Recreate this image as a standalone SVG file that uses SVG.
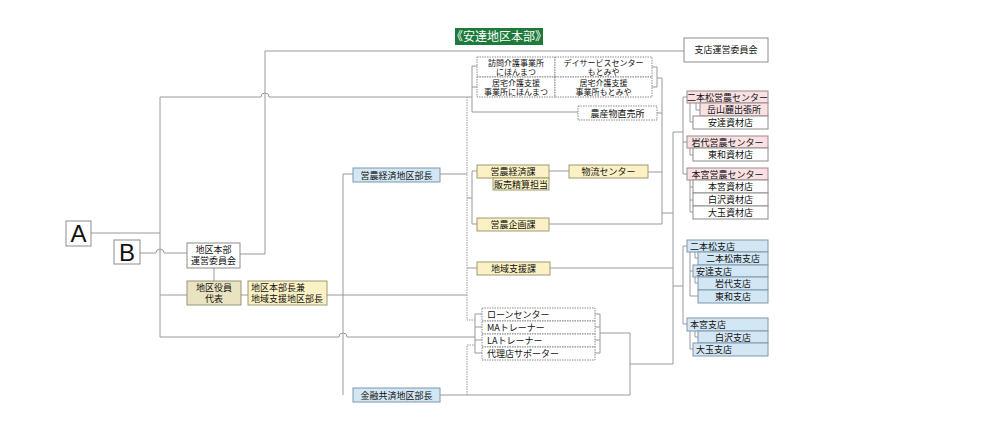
<svg xmlns="http://www.w3.org/2000/svg" width="1000" height="431" viewBox="0 0 1000 431">
<style>
.t{font-family:"Noto Sans CJK JP","Noto Sans",sans-serif;font-size:9px;fill:#111;text-anchor:middle}
.tl{font-family:"Noto Sans CJK JP","Noto Sans",sans-serif;font-size:9px;fill:#111;text-anchor:start}
.s{font-size:8px}
.big{font-family:"Liberation Sans",Arial,sans-serif;font-size:24px;fill:#111;text-anchor:middle}
.w{fill:#fff;stroke:#8c8c8c;stroke-width:1}
.d{fill:#fff;stroke:#8c8c8c;stroke-width:1;stroke-dasharray:1.5 1}
.y{fill:#fbf1c4;stroke:#a09a70;stroke-width:1}
.tan{fill:#e9e3c2;stroke:#9a9478;stroke-width:1}
.b{fill:#d2e6f4;stroke:#7d98ad;stroke-width:1}
.p{fill:#f9e0e3;stroke:#9c8a8c;stroke-width:1}
.ln{fill:none;stroke:#9a9a9a;stroke-width:1}
.dl{fill:none;stroke:#9a9a9a;stroke-width:1;stroke-dasharray:1.5 1}
</style>

<g id="connectors">
<path class="ln" d="M240,254 H265 V51 H684"/>
<path class="ln" d="M160,337 V97 H261 A4,4 0 0 1 269,97 H472"/>
<path class="ln" d="M91,233 H160"/>
<path class="ln" d="M140,253 H156 A4,4 0 0 1 164,253 H187"/>
<path class="ln" d="M214,268 V281"/>
<path class="ln" d="M160,295 H187"/>
<path class="ln" d="M241,295 H248"/>
<path class="ln" d="M327,295 H467"/>
<path class="ln" d="M160,337 H339 A4,4 0 0 1 347,337 H475"/>
<path class="ln" d="M477,66 H472 V112 H578"/>
<path class="ln" d="M472,87 H477"/>
<path class="dl" d="M467,97 V320 H475"/>
<path class="ln" d="M343,395 V174 H353"/>
<path class="ln" d="M440,174 H467"/>
<path class="ln" d="M467,198 H472 V171 H477"/>
<path class="ln" d="M472,198 V224 H477"/>
<path class="ln" d="M549,171 H569"/>
<path class="ln" d="M467,268 H477"/>
<path class="ln" d="M652,67 H657 V87 H652"/>
<path class="ln" d="M657,78 H662 V224 H549"/>
<path class="ln" d="M657,113 H662"/>
<path class="ln" d="M648,172 H662"/>
<path class="ln" d="M662,213 H673"/>
<path class="ln" d="M673,132 V364"/>
<path class="ln" d="M673,132 H683"/>
<path class="ln" d="M550,268 H673"/>
<path class="ln" d="M673,286 H683"/>
<path class="ln" d="M630,364 H673"/>
<path class="ln" d="M475,314 V353"/>
<path class="ln" d="M475,314 H482 M475,327 H482 M475,340 H482 M475,353 H482"/>
<path class="ln" d="M595,314 H600 M595,327 H600 M595,340 H600 M595,353 H600 M600,314 V353"/>
<path class="ln" d="M600,333 H630 V395"/>
<path class="ln" d="M440,395 H630"/>
<path class="dl" d="M467,395 V345 H475"/>
<path class="ln" d="M687,97 H683 V174 H687 M683,142 H687"/>
<path class="ln" d="M690,103 V122 H693 M696,103 V110 H700"/>
<path class="ln" d="M690,148 V155 H693"/>
<path class="ln" d="M690,180 V212 H693 M690,187 H693 M690,200 H693"/>
<path class="ln" d="M687,246 H683 V324 H687"/>
<path class="ln" d="M690,252 V296 H698 M690,271 H693"/>
<path class="ln" d="M695,252 V258 H698"/>
<path class="ln" d="M695,277 V283 H698"/>
<path class="ln" d="M690,331 V349 H693"/>
<path class="ln" d="M695,331 V337 H698"/>
</g>

<g id="title">
<rect x="455" y="28" width="88" height="17" fill="#1d7a3a"/>
<text x="499" y="41" class="t" style="fill:#fff;font-size:12px">《安達地区本部》</text>
</g>

<g id="shiten-committee">
<rect class="w" x="684" y="38" width="84" height="24"/>
<text class="t" x="726" y="53">支店運営委員会</text>
</g>

<g id="A"><rect class="w" x="66" y="221" width="25" height="25"/><text class="big" x="78.5" y="242">A</text></g>
<g id="B"><rect class="w" x="114" y="240" width="26" height="24"/><text class="big" x="127" y="261">B</text></g>

<g id="honbu-committee">
<rect class="w" x="187" y="243" width="53" height="25"/>
<text class="t" x="213.5" y="253">地区本部</text>
<text class="t" x="213.5" y="264">運営委員会</text>
</g>
<g id="yakuin">
<rect class="tan" x="187" y="281" width="54" height="24"/>
<text class="t" x="214" y="291">地区役員</text>
<text class="t" x="214" y="302">代表</text>
</g>
<g id="honbucho">
<rect class="y" x="248" y="281" width="79" height="24"/>
<text class="tl" x="251" y="291">地区本部長兼</text>
<text class="tl" x="251" y="302">地域支援地区部長</text>
</g>

<g id="einou-bucho">
<rect class="b" x="353" y="168" width="87" height="14"/>
<text class="t" x="396.5" y="178.5">営農経済地区部長</text>
</g>
<g id="kinyu-bucho">
<rect class="b" x="353" y="388" width="87" height="14"/>
<text class="t" x="396.5" y="398.5">金融共済地区部長</text>
</g>

<g id="care">
<rect class="d" x="477" y="57" width="78" height="20"/>
<rect class="d" x="555" y="57" width="97" height="20"/>
<rect class="d" x="477" y="77" width="78" height="20"/>
<rect class="d" x="555" y="77" width="97" height="20"/>
<text class="t s" x="516" y="65.5">訪問介護事業所</text>
<text class="t s" x="516" y="74.5">にほんまつ</text>
<text class="t s" x="603.5" y="65.5">デイサービスセンター</text>
<text class="t s" x="603.5" y="74.5">もとみや</text>
<text class="t s" x="516" y="85.5">居宅介護支援</text>
<text class="t s" x="516" y="94.5">事業所にほんまつ</text>
<text class="t s" x="603.5" y="85.5">居宅介護支援</text>
<text class="t s" x="603.5" y="94.5">事業所もとみや</text>
</g>
<g id="chokubai">
<rect class="d" x="578" y="106" width="79" height="14"/>
<text class="t" x="617.5" y="116.5">農産物直売所</text>
</g>

<g id="keizaika">
<rect class="y" x="477" y="165" width="72" height="13"/>
<text class="t" x="513" y="175">営農経済課</text>
<rect class="y" x="493" y="178" width="56" height="12"/>
<text class="t" x="521" y="187.5">販売精算担当</text>
</g>
<g id="butsuryu">
<rect class="y" x="569" y="165" width="79" height="13"/>
<text class="t" x="608.5" y="175">物流センター</text>
</g>
<g id="kikaku">
<rect class="y" x="477" y="218" width="72" height="13"/>
<text class="t" x="513" y="228">営農企画課</text>
</g>
<g id="chiiki">
<rect class="y" x="477" y="262" width="73" height="13"/>
<text class="t" x="513.5" y="272">地域支援課</text>
</g>

<g id="loan">
<rect class="d" x="482" y="308" width="113" height="13"/>
<rect class="d" x="482" y="321" width="113" height="13"/>
<rect class="d" x="482" y="334" width="113" height="13"/>
<rect class="d" x="482" y="347" width="113" height="13"/>
<text class="tl" x="487" y="318">ローンセンター</text>
<text class="tl" x="487" y="331">MAトレーナー</text>
<text class="tl" x="487" y="344">LAトレーナー</text>
<text class="tl" x="487" y="357">代理店サポーター</text>
</g>

<g id="nihonmatsu-center">
<rect class="p" x="687" y="91" width="81" height="12"/>
<text class="t" x="727.5" y="100.5">二本松営農センター</text>
<rect class="p" x="700" y="103" width="68" height="13"/>
<text class="t" x="734" y="113">岳山麓出張所</text>
<rect class="w" x="693" y="116" width="75" height="13"/>
<text class="t" x="730.5" y="126">安達資材店</text>
</g>
<g id="iwashiro-center">
<rect class="p" x="687" y="136" width="81" height="12"/>
<text class="t" x="727.5" y="145.5">岩代営農センター</text>
<rect class="w" x="693" y="148" width="75" height="13"/>
<text class="t" x="730.5" y="158">東和資材店</text>
</g>
<g id="motomiya-center">
<rect class="p" x="687" y="168" width="81" height="12"/>
<text class="t" x="727.5" y="177.5">本宮営農センター</text>
<rect class="w" x="693" y="180" width="75" height="13"/>
<text class="t" x="730.5" y="190">本宮資材店</text>
<rect class="w" x="693" y="193" width="75" height="13"/>
<text class="t" x="730.5" y="203">白沢資材店</text>
<rect class="w" x="693" y="206" width="75" height="13"/>
<text class="t" x="730.5" y="216">大玉資材店</text>
</g>

<g id="nihonmatsu-branch">
<rect class="b" x="687" y="240" width="81" height="12"/>
<text class="tl" x="690" y="249.5">二本松支店</text>
<rect class="b" x="698" y="252" width="70" height="13"/>
<text class="t" x="733" y="262">二本松南支店</text>
<rect class="b" x="693" y="265" width="75" height="12"/>
<text class="tl" x="696" y="274.5">安達支店</text>
<rect class="b" x="698" y="277" width="70" height="13"/>
<text class="t" x="733" y="287">岩代支店</text>
<rect class="b" x="698" y="290" width="70" height="13"/>
<text class="t" x="733" y="300">東和支店</text>
</g>
<g id="motomiya-branch">
<rect class="b" x="687" y="318" width="81" height="13"/>
<text class="tl" x="690" y="328">本宮支店</text>
<rect class="b" x="698" y="331" width="70" height="12"/>
<text class="t" x="733" y="340.5">白沢支店</text>
<rect class="b" x="693" y="343" width="75" height="13"/>
<text class="tl" x="696" y="353">大玉支店</text>
</g>
</svg>
